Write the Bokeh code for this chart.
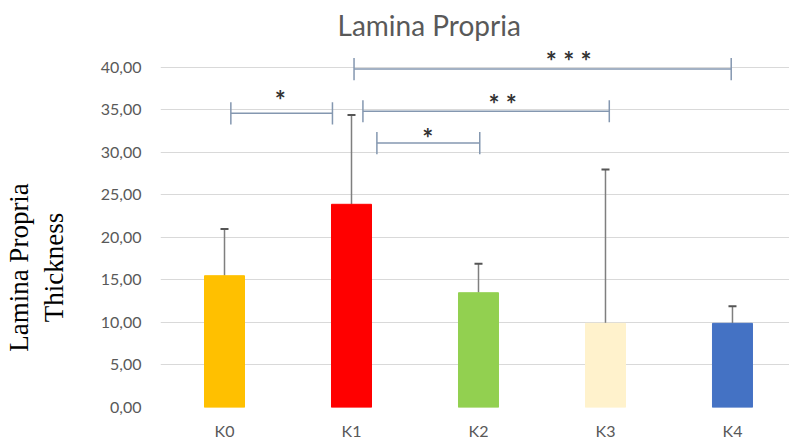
from bokeh.plotting import figure
from bokeh.models import (ColumnDataSource, Range1d, FixedTicker, Whisker, TeeHead, Title,
                          LinearAxis)
from bokeh.core.properties import value
from bokeh.embed import file_html
from bokeh.resources import INLINE

# ---- data ----
groups = ["K0", "K1", "K2", "K3", "K4"]
means = [15.5, 23.9, 13.5, 9.9, 9.9]
sds = [5.5, 10.5, 3.4, 18.1, 2.0]
colors = ["#FFC000", "#FF0000", "#92D050", "#FFF2CC", "#4472C4"]
y_ticks = [0, 5, 10, 15, 20, 25, 30, 35, 40]
y_tick_labels = ["0,00", "5,00", "10,00", "15,00", "20,00", "25,00", "30,00", "35,00", "40,00"]

# significance brackets (group-index units, value units)
sig_x0 = [0.05, 1.02, 1.09, 1.20]
sig_x1 = [0.85, 3.99, 3.03, 2.01]
sig_y = [34.6, 39.8, 34.85, 31.1]
sig_text = ["*", "* * *", "* *", "*"]
sig_text_x = [0.44, 2.71, 2.19, 1.60]
sig_text_y = [36.2, 40.7, 35.7, 31.7]

# ---- build ----
xs = list(range(len(groups)))
upper = [m + s for m, s in zip(means, sds)]
src = ColumnDataSource(dict(x=xs, mean=means, upper=upper, color=colors))

p = figure(width=789, height=442, output_backend="svg", toolbar_location=None,
           x_range=Range1d(-0.504, 4.449), y_range=Range1d(0, 42.46),
           min_border_left=160, min_border_right=0, min_border_top=40, min_border_bottom=0)
p.outline_line_color = None
p.background_fill_color = "white"

p.title = Title(text="Lamina Propria", align="left", offset=177,
                text_font="Lato", text_font_size="28px", text_font_style="normal",
                text_color="#595959")

p.vbar(x="x", top="mean", width=0.315, color="color", source=src)
p.add_layout(Whisker(base="x", lower="mean", upper="upper", source=src,
                     line_color="#7F7F7F", line_width=1.5,
                     upper_head=TeeHead(size=8, line_color="#555555", line_width=2),
                     lower_head=None))

# brackets
tick_h = 1.3
bsrc = ColumnDataSource(dict(x0=sig_x0, x1=sig_x1, y=sig_y,
                             yl=[v - tick_h for v in sig_y], yh=[v + tick_h for v in sig_y]))
p.segment(x0="x0", y0="y", x1="x1", y1="y", source=bsrc, line_color="#8497B0", line_width=1.5)
p.segment(x0="x0", y0="yl", x1="x0", y1="yh", source=bsrc, line_color="#8497B0", line_width=1.5)
p.segment(x0="x1", y0="yl", x1="x1", y1="yh", source=bsrc, line_color="#8497B0", line_width=1.5)
tsrc = ColumnDataSource(dict(x=sig_text_x, y=sig_text_y, t=sig_text))
p.text(x="x", y="y", text="t", source=tsrc, text_align="center", text_baseline="middle",
       text_font=value("Lato"), text_font_size="26px", text_font_style="bold", text_color="#333333")

# axes
p.xgrid.grid_line_color = None
p.ygrid.grid_line_color = "#D9D9D9"
p.ygrid.grid_line_width = 1
p.yaxis.ticker = FixedTicker(ticks=y_ticks)
p.yaxis.major_label_overrides = {t: l for t, l in zip(y_ticks, y_tick_labels)}
p.xaxis.ticker = FixedTicker(ticks=xs)
p.xaxis.major_label_overrides = {i: g for i, g in zip(xs, groups)}
for ax in (p.xaxis, p.yaxis):
    ax.axis_line_color = None
    ax.major_tick_line_color = None
    ax.minor_tick_line_color = None
    ax.major_tick_out = 0
    ax.major_tick_in = 0
    ax.major_label_text_font = "Lato"
    ax.major_label_text_font_size = "16px"
    ax.major_label_text_color = "#595959"
p.yaxis.major_label_standoff = 19
p.xaxis.major_label_standoff = 13

# two-line serif y title, as two label-only axes (inner line first);
# trailing no-break spaces shift each line down as in the original
NB = "\u00a0"
for txt, standoff in (("Thickness" + NB * 12, 29), ("Lamina Propria" + NB * 12, 2)):
    la = LinearAxis(ticker=FixedTicker(ticks=[]), axis_label=txt,
                    axis_line_color=None, major_tick_line_color=None, minor_tick_line_color=None,
                    major_tick_out=0, major_tick_in=0, major_label_standoff=0,
                    axis_label_standoff=standoff, axis_label_text_font="Liberation Serif",
                    axis_label_text_font_size="27px", axis_label_text_font_style="normal",
                    axis_label_text_color="black")
    p.add_layout(la, "left")

open("out.html", "w").write(file_html(p, INLINE))
